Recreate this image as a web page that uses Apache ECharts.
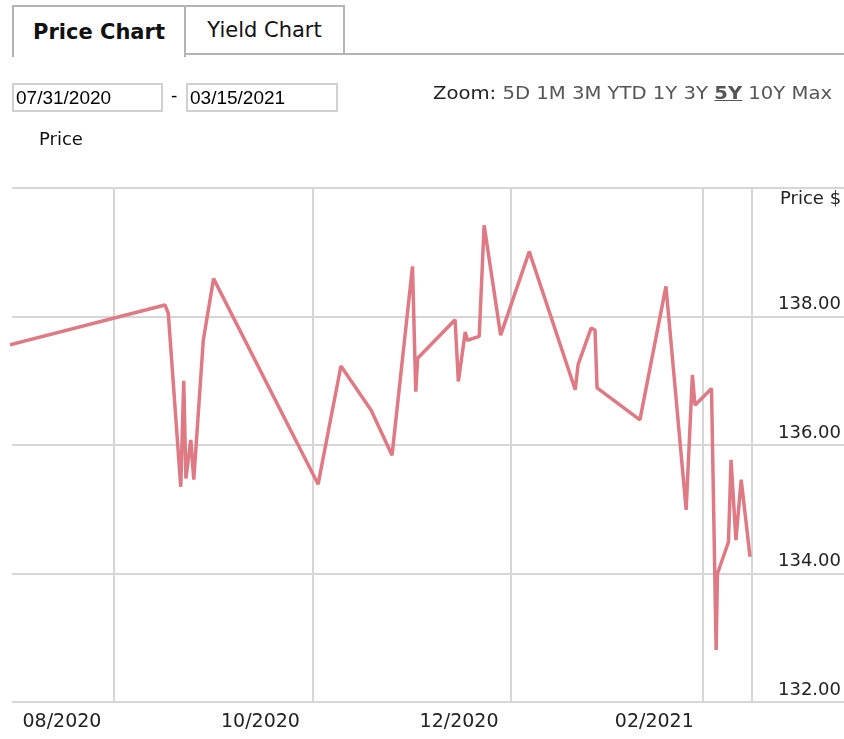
<!DOCTYPE html>
<html>
<head>
<meta charset="utf-8">
<script src="https://cdn.jsdelivr.net/npm/echarts@6/dist/echarts.min.js"></script>
<style>
  html, body { margin: 0; padding: 0; background: #fff; }
  body { width: 844px; height: 739px; position: relative; overflow: hidden; font-family: "DejaVu Sans", Verdana, sans-serif; }
  #chart { position: absolute; left: 0; top: 0; width: 844px; height: 739px; }
  .tab { position: absolute; top: 5px; height: 50px; box-sizing: border-box; font-size: 21px; color: #111;
         display: flex; align-items: center; justify-content: center; background: #fff; }
  .tab.active { left: 12px; width: 174px; border: 2px solid #b4b4b4; border-bottom: none; font-weight: bold; height: 52px; }
  .tab.other { left: 186px; width: 159px; border: 2px solid #b4b4b4; border-left: none; }
  .tabline { position: absolute; left: 345px; right: 0; top: 53px; border-top: 2px solid #b4b4b4; }
  .date { position: absolute; top: 83px; height: 29px; box-sizing: border-box; border: 2px solid #d0d0d0;
          font-family: "Liberation Sans", Arial, sans-serif; font-size: 19px; line-height: 25px; padding-left: 2px; color: #000; }
  .dash { position: absolute; left: 171px; top: 83px; font-family: "Liberation Sans", Arial, sans-serif; font-size: 19px; line-height: 25px; }
  .zoom { position: absolute; left: 433px; top: 81px; font-size: 18px; line-height: 24px; color: #555; white-space: nowrap;
          transform: scaleX(1.09); transform-origin: left center; }
  .zoom .lbl { color: #222; }
  .zoom b { text-decoration: underline; }
  .ptitle { position: absolute; left: 39px; top: 128px; font-size: 18px; color: #111; }
  .top { z-index: 2; }
</style>
</head>
<body>
<div id="chart"></div>
<div class="tab active top">Price Chart</div>
<div class="tab other top">Yield Chart</div>
<div class="tabline top"></div>
<div class="date top" style="left:12px;width:151px;">07/31/2020</div>
<div class="dash top">-</div>
<div class="date top" style="left:186px;width:152px;">03/15/2021</div>
<div class="zoom top"><span class="lbl">Zoom:</span> 5D 1M 3M YTD 1Y 3Y <b>5Y</b> 10Y Max</div>
<div class="ptitle top">Price</div>

<script>
// price history
const dates = [
  '2020-07-31 00:00', '2020-09-16 16:00', '2020-09-17 16:00', '2020-09-21 12:00', '2020-09-22 10:00',
  '2020-09-23 02:00', '2020-09-24 14:00', '2020-09-25 12:00', '2020-09-28 10:00', '2020-10-01 14:00',
  '2020-11-02 17:00', '2020-11-09 17:00', '2020-11-19 00:00', '2020-11-25 10:00', '2020-12-01 17:00',
  '2020-12-02 17:00', '2020-12-03 07:00', '2020-12-14 19:00', '2020-12-15 19:00', '2020-12-17 22:00',
  '2020-12-18 14:00', '2020-12-22 05:00', '2020-12-23 17:00', '2020-12-28 19:00', '2021-01-06 14:00',
  '2021-01-20 17:00', '2021-01-21 14:00', '2021-01-25 14:00', '2021-01-26 19:00', '2021-01-27 10:00',
  '2021-02-09 14:00', '2021-02-17 14:00', '2021-02-23 19:00', '2021-02-25 17:00', '2021-02-26 12:00',
  '2021-03-03 14:00', '2021-03-05 00:00', '2021-03-05 10:00', '2021-03-08 19:00', '2021-03-09 14:00',
  '2021-03-11 02:00', '2021-03-12 17:00', '2021-03-15 10:00'
];
const prices = [
  137.56, 138.18, 138.05, 135.35, 137.00,
  135.48, 136.08, 135.46, 137.63, 138.59,
  135.39, 137.23, 136.54, 135.84, 138.78,
  136.83, 137.35, 137.95, 136.99, 137.76,
  137.63, 137.69, 139.42, 137.71, 139.01,
  136.86, 137.25, 137.82, 137.79, 136.89,
  136.39, 138.47, 134.99, 137.09, 136.62,
  136.88, 132.81, 134.00, 134.49, 135.77,
  134.52, 135.46, 134.26
];
// vertical grid lines and month labels
const gridDates = ['2020-09-01', '2020-11-01', '2021-01-01', '2021-03-01', '2021-03-16'];
const labelDates = ['2020-08-16', '2020-10-16', '2020-12-16', '2021-02-14'];
const yTicks = { min: 132, max: 140, step: 2 };

const gridColor = '#d6d6d6';
const lineColor = '#df7a85';
const font = '"DejaVu Sans", Verdana, sans-serif';

const chart = echarts.init(document.getElementById('chart'));

chart.setOption({
  animation: false,
  grid: { left: 12, right: 0, top: 188, bottom: 37 },
  xAxis: {
    type: 'time',
    min: '2020-07-31 15:30',
    max: '2021-04-13 07:00',
    axisLine: { show: false },
    axisTick: { show: false },
    splitLine: { show: false },
    axisLabel: {
      customValues: labelDates,
      formatter: '{MM}/{yyyy}',
      margin: 11,
      fontSize: 19,
      fontFamily: font,
      color: '#222'
    }
  },
  yAxis: {
    type: 'value',
    position: 'right',
    min: yTicks.min,
    max: yTicks.max,
    interval: yTicks.step,
    axisLine: { show: false },
    axisTick: { show: false },
    splitLine: { lineStyle: { color: gridColor, width: 2 } },
    axisLabel: {
      inside: true,
      margin: 66,
      align: 'left',
      verticalAlign: 'bottom',
      padding: [0, 0, 3, 0],
      fontSize: 18,
      fontFamily: font,
      color: '#222',
      formatter: (v) => (v === yTicks.max ? '' : v.toFixed(2))
    }
  },
  graphic: [{
    type: 'text',
    left: 780,
    top: 190,
    style: { text: 'Price $', font: '18px ' + font, fill: '#222' }
  }],
  series: [{
    type: 'line',
    z: 3,
    data: dates.map((d, i) => [d, prices[i]]),
    showSymbol: false,
    lineStyle: { color: lineColor, width: 3.5 },
    itemStyle: { color: lineColor },
    markLine: {
      z: 1,
      silent: true,
      symbol: 'none',
      label: { show: false },
      lineStyle: { color: gridColor, width: 2, type: 'solid' },
      emphasis: { disabled: true },
      data: gridDates.map((d) => ({ xAxis: d }))
    }
  }]
});
</script>
</body>
</html>
